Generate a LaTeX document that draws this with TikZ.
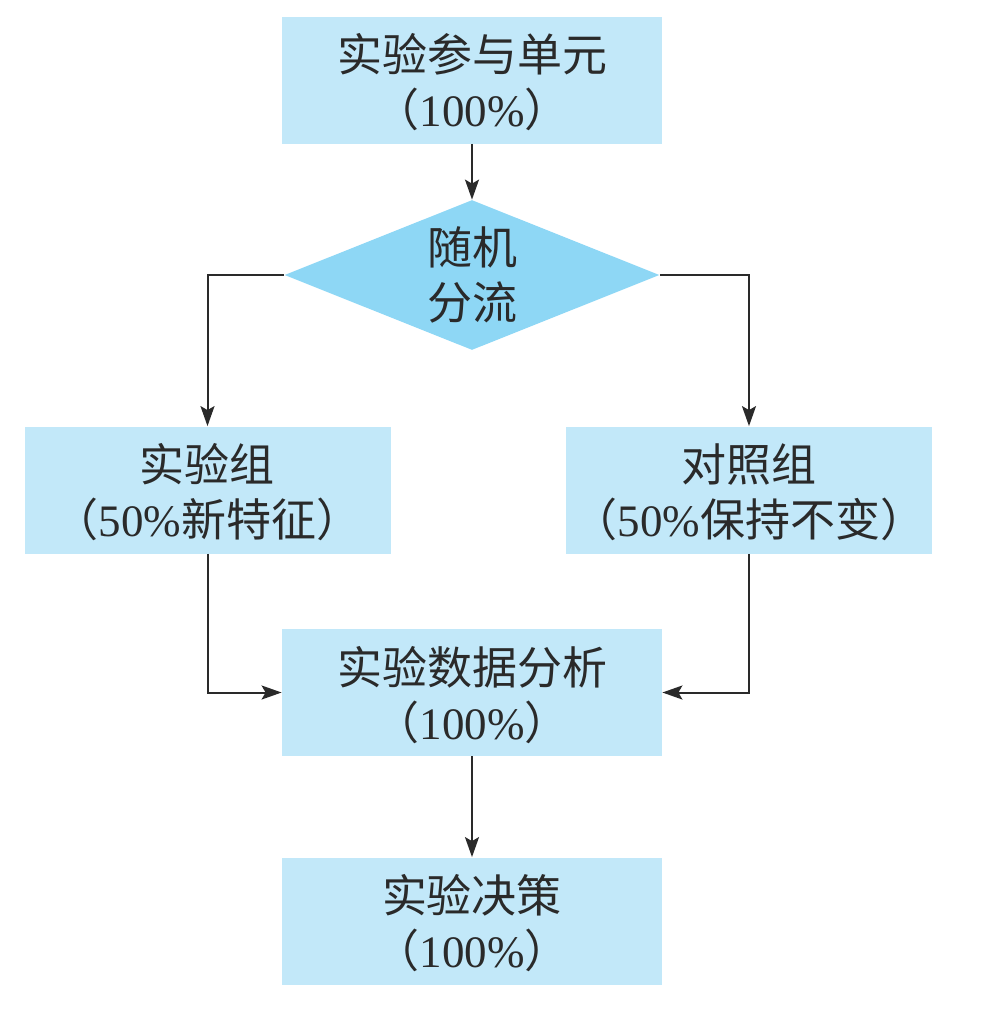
\documentclass[tikz,border=0pt]{standalone}
\usepackage{fontspec}
\setmainfont{Liberation Serif}
\newfontfamily\cjk{Noto Sans CJK SC}
\usetikzlibrary{shapes.geometric,arrows.meta}
\definecolor{boxblue}{HTML}{C2E8F9}
\definecolor{diablue}{HTML}{8ED7F5}
\definecolor{inkgray}{HTML}{2A2A2A}
\begin{document}
\begin{tikzpicture}[x=0.5pt,y=-0.5pt]
        \tikzstyle{every node}=[text=inkgray,font=\fontsize{22.5pt}{27.5pt}\selectfont,align=center,inner sep=0pt]
        \tikzstyle{box}=[fill=boxblue,minimum width=190pt,minimum height=63.5pt,text depth=-3pt]
        \tikzstyle{sidebox}=[box,minimum width=183pt]
        \tikzstyle{split}=[diamond,fill=diablue,minimum width=187.5pt,minimum height=75pt,aspect=2.5]
        \tikzstyle{flow}=[draw=inkgray,line width=1pt,-{Stealth[length=10pt,width=7pt,inset=2pt]}]
        \useasboundingbox (0,0) rectangle (993,1014);
        \node[box] (unit) at (472,80) {{\cjk 实验参与单元}\\{\cjk （}100\%{\cjk ）}};
        \node[split] (random) at (472,275) {\cjk 随机\\\cjk 分流};
        \node[sidebox] (treat) at (207.5,490) {{\cjk 实验组}\\{\cjk （}50\%{\cjk 新特征）}};
        \node[sidebox] (ctrl) at (749,490) {{\cjk 对照组}\\{\cjk （}50\%{\cjk 保持不变）}};
        \node[box] (analysis) at (472,692.5) {{\cjk 实验数据分析}\\{\cjk （}100\%{\cjk ）}};
        \node[box] (decide) at (472,921) {{\cjk 实验决策}\\{\cjk （}100\%{\cjk ）}};
        \draw[flow] (unit) -- (random);
        \draw[flow] (random.west) -| (treat);
        \draw[flow] (random.east) -| (ctrl);
        \draw[flow] (treat.south) |- (analysis.west);
        \draw[flow] (ctrl.south) |- (analysis.east);
        \draw[flow] (analysis) -- (decide);
    \end{tikzpicture}
\end{document}
